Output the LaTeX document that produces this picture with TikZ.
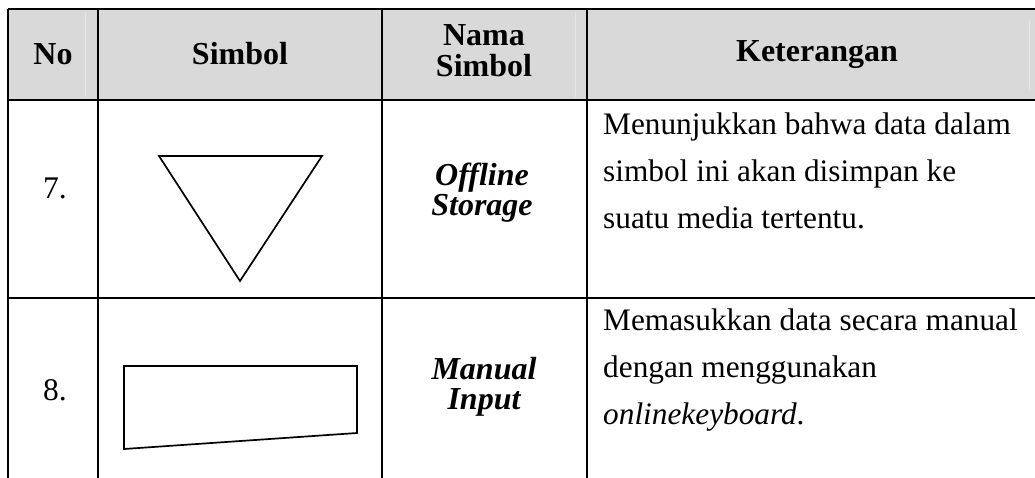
\documentclass[tikz,border=0pt]{standalone}
\usepackage{fontspec}
\setmainfont{Liberation Serif}
\definecolor{hdgray}{HTML}{D9D9D9}
\definecolor{hdline}{HTML}{E6E6E6}
\begin{document}
\begin{tikzpicture}[x=1pt,y=-1pt,
  grid/.style={line width=1.7pt, black},
  shapeline/.style={line width=1.7pt, black, line join=miter},
  faint/.style={line width=1pt, hdline},
  hd/.style={font=\fontsize{32}{36}\selectfont\bfseries, inner sep=0pt, anchor=base},
  hdit/.style={font=\fontsize{32}{36}\selectfont\bfseries\itshape, inner sep=0pt, anchor=base},
  num/.style={font=\fontsize{31.5}{36}\selectfont, inner sep=0pt, anchor=base},
  body/.style={font=\fontsize{31.3}{36}\selectfont, inner sep=0pt, anchor=base west}]
\useasboundingbox (0,0) rectangle (1035,478);
% header background
\fill[hdgray] (8,9) rectangle (1035,100);
\draw[faint] (85,12) -- (85,97);
\draw[faint] (575,12) -- (575,97);
\draw[faint] (1029,20) -- (1029,90);
% grid
\draw[grid] (8,9) -- (1035,9);
\draw[grid] (8,100) -- (1035,100);
\draw[grid] (8,298) -- (1035,298);
\draw[grid] (8,9) -- (8,478);
\draw[grid] (98,9) -- (98,478);
\draw[grid] (382,9) -- (382,478);
\draw[grid] (587,9) -- (587,478);
% header text
\node[hd] (hno) at (53,65) {No};
\node[hd] (hsim) at (240,65) {Simbol};
\node[hd] (hnama1) at (484,46) {Nama};
\node[hd] (hnama2) at (484,77) {Simbol};
\node[hd] (hket) at (817,62) {Keterangan};
% row 7
\node[num] (n7) at (55,199) {7.};
\draw[shapeline] (159,156) -- (322,156) -- (240,281) -- cycle;
\node[hdit] (s7a) at (482,186) {Offline};
\node[hdit] (s7b) at (482,216) {Storage};
\node[body] (k7a) at (603,135) {Menunjukkan bahwa data dalam};
\node[body] (k7b) at (603,182) {simbol ini akan disimpan ke};
\node[body] (k7c) at (603,229) {suatu media tertentu.};
% row 8
\node[num] (n8) at (55,400) {8.};
\draw[shapeline] (124,366) -- (357,366) -- (357,433) -- (124,449) -- cycle;
\node[hdit] (s8a) at (484,379) {Manual};
\node[hdit] (s8b) at (484,409) {Input};
\node[body] (k8a) at (603,330) {Memasukkan data secara manual};
\node[body] (k8b) at (603,377) {dengan menggunakan};
\node[body] (k8c) at (603,424) {\textit{onlinekeyboard}.};
\end{tikzpicture}
\end{document}
